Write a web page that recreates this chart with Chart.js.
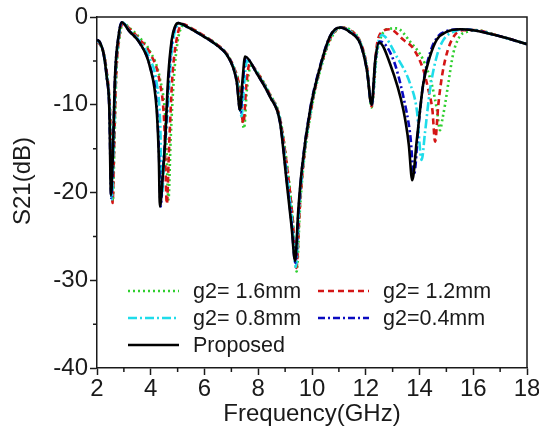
<!DOCTYPE html>
<html>
<head>
<meta charset="utf-8">
<script src="https://cdn.jsdelivr.net/npm/chart.js@4/dist/chart.umd.min.js"></script>
<style>
  body { margin: 0; background: #fff; }
  canvas { display: block; }
</style>
</head>
<body>
<canvas id="s21Chart" width="539" height="435"></canvas>
<script>
// S21 vs frequency (GHz, dB)
var freqProposed = [2.0, 2.11, 2.24, 2.36, 2.46, 2.52, 2.6, 2.67, 2.8, 2.92,
  3.2, 3.6, 3.97, 4.22, 4.3, 4.34, 4.45, 4.53, 4.65, 4.78,
  4.9, 5.02, 5.46, 5.96, 6.45, 6.83, 7.07, 7.2, 7.32, 7.42,
  7.51, 7.94, 8.44, 8.81, 9.06, 9.24, 9.37, 9.49, 9.62, 9.93,
  10.3, 10.67, 11.04, 11.4, 11.79, 12.04, 12.22, 12.35, 12.5, 12.9,
  13.4, 13.6, 13.73, 13.9, 14.14, 14.39, 14.64, 15.01, 15.5, 16.0,
  17.0, 18.0];
var s21Proposed = [-2.6, -2.9, -4.1, -6.8, -10.6, -20.3, -14.4, -6.8, -2.2, -0.6,
  -1.6, -3.0, -5.7, -10.6, -16.0, -21.6, -18.0, -14.4, -6.8, -2.6,
  -1.1, -0.7, -1.3, -2.2, -3.2, -4.3, -5.8, -7.4, -10.6, -7.0,
  -4.5, -6.4, -9.1, -12.0, -18.9, -23.9, -27.8, -22.0, -17.4, -10.6,
  -5.7, -2.2, -1.2, -1.7, -3.0, -6.0, -10.0, -5.0, -2.9, -5.3,
  -10.6, -14.5, -18.6, -14.0, -7.6, -4.5, -2.6, -1.7, -1.4, -1.5,
  -2.2, -3.1];

var freqG04 = [2.0, 2.11, 2.24, 2.36, 2.46, 2.53, 2.6, 2.67, 2.8, 2.92,
  3.2, 3.6, 3.97, 4.22, 4.3, 4.37, 4.45, 4.55, 4.67, 4.8,
  4.92, 5.03, 5.46, 5.96, 6.45, 6.83, 7.07, 7.2, 7.34, 7.44,
  7.53, 7.94, 8.44, 8.81, 9.06, 9.24, 9.38, 9.5, 9.63, 9.93,
  10.3, 10.67, 11.04, 11.4, 11.79, 12.04, 12.22, 12.35, 12.53, 13.03,
  13.4, 13.65, 13.8, 13.96, 14.14, 14.39, 14.64, 15.01, 15.5, 16.0,
  17.0, 18.0];
var s21G04 = [-2.6, -2.9, -4.1, -6.8, -10.6, -20.6, -14.6, -6.9, -2.2, -0.6,
  -1.6, -3.0, -5.6, -10.0, -15.0, -21.6, -17.5, -13.5, -6.8, -2.5,
  -1.1, -0.7, -1.3, -2.2, -3.2, -4.3, -5.8, -7.4, -10.9, -7.0,
  -4.6, -6.4, -9.1, -12.0, -18.5, -23.5, -28.0, -22.0, -17.2, -10.5,
  -5.6, -2.2, -1.2, -1.7, -3.0, -6.0, -10.0, -5.2, -2.8, -4.9,
  -9.1, -13.3, -17.9, -12.5, -7.6, -4.1, -2.4, -1.6, -1.4, -1.5,
  -2.2, -3.1];

var freqG08 = [2.0, 2.11, 2.24, 2.36, 2.47, 2.55, 2.62, 2.69, 2.82, 2.94,
  3.2, 3.6, 3.97, 4.22, 4.35, 4.42, 4.5, 4.6, 4.72, 4.85,
  4.95, 5.05, 5.46, 5.96, 6.45, 6.83, 7.07, 7.22, 7.38, 7.48,
  7.58, 7.94, 8.44, 8.81, 9.08, 9.26, 9.4, 9.52, 9.65, 9.96,
  10.33, 10.7, 11.06, 11.4, 11.79, 12.04, 12.22, 12.4, 12.6, 13.15,
  13.65, 13.9, 14.08, 14.2, 14.39, 14.64, 14.89, 15.26, 15.6, 16.0,
  17.0, 18.0];
var s21G08 = [-2.7, -3.0, -4.1, -6.6, -10.5, -20.8, -14.5, -6.8, -2.1, -0.6,
  -1.5, -2.8, -4.8, -7.5, -12.0, -20.3, -16.0, -12.0, -6.0, -2.3,
  -1.2, -0.8, -1.3, -2.2, -3.2, -4.3, -5.7, -7.4, -11.3, -7.5,
  -5.0, -6.3, -9.0, -11.8, -18.3, -23.3, -28.5, -22.0, -17.2, -10.4,
  -5.5, -2.2, -1.2, -1.6, -2.9, -5.8, -10.0, -4.0, -2.05, -4.5,
  -7.6, -10.6, -16.3, -13.3, -8.3, -4.5, -2.6, -1.7, -1.4, -1.5,
  -2.2, -3.1];

var freqG12 = [2.0, 2.11, 2.24, 2.36, 2.48, 2.58, 2.64, 2.71, 2.84, 2.96,
  3.2, 3.6, 3.97, 4.34, 4.5, 4.6, 4.68, 4.8, 4.95, 5.1,
  5.2, 5.46, 5.96, 6.45, 6.83, 7.1, 7.27, 7.45, 7.55, 7.68,
  7.94, 8.44, 8.81, 9.1, 9.28, 9.42, 9.54, 9.67, 9.98, 10.35,
  10.72, 11.1, 11.4, 11.79, 12.04, 12.22, 12.4, 12.6, 12.9, 13.4,
  13.77, 14.14, 14.33, 14.48, 14.58, 14.7, 14.85, 15.05, 15.3, 15.6,
  16.0, 17.0, 18.0];
var s21G12 = [-2.8, -3.1, -4.0, -6.2, -10.5, -21.2, -14.5, -6.8, -2.1, -0.7,
  -1.3, -2.6, -4.1, -7.5, -12.0, -21.3, -15.0, -7.0, -2.8, -1.0,
  -0.8, -1.2, -2.1, -3.1, -4.2, -5.8, -7.5, -12.1, -8.0, -5.3,
  -6.2, -8.9, -11.6, -17.8, -23.0, -28.6, -22.0, -17.0, -10.3, -5.4,
  -2.2, -1.2, -1.5, -2.8, -5.6, -10.2, -3.5, -1.7, -1.4, -2.6,
  -3.6, -6.0, -8.3, -10.6, -14.2, -10.0, -6.5, -3.8, -2.1, -1.5,
  -1.5, -2.2, -3.1];

var freqG16 = [2.0, 2.11, 2.24, 2.36, 2.48, 2.59, 2.65, 2.72, 2.85, 2.97,
  3.2, 3.6, 3.97, 4.34, 4.55, 4.66, 4.74, 4.86, 5.0, 5.15,
  5.25, 5.46, 5.96, 6.45, 6.83, 7.1, 7.28, 7.47, 7.58, 7.72,
  7.94, 8.44, 8.81, 9.1, 9.28, 9.43, 9.55, 9.68, 10.0, 10.38,
  10.75, 11.12, 11.4, 11.79, 12.04, 12.22, 12.4, 12.53, 12.78, 13.15,
  13.65, 14.14, 14.45, 14.65, 14.76, 14.86, 14.95, 15.07, 15.26, 15.5,
  15.76, 16.1, 17.0, 18.0];
var s21G16 = [-2.8, -3.1, -4.0, -6.2, -10.4, -21.0, -14.3, -6.6, -2.1, -0.7,
  -1.2, -2.4, -3.9, -7.0, -12.0, -20.8, -14.0, -7.0, -2.8, -1.1,
  -0.9, -1.2, -2.1, -3.1, -4.2, -5.8, -7.6, -12.7, -8.2, -5.6,
  -6.2, -8.8, -11.5, -17.5, -22.8, -29.0, -22.0, -17.0, -10.2, -5.3,
  -2.2, -1.2, -1.4, -2.8, -5.7, -10.3, -4.5, -2.6, -1.4, -1.3,
  -2.8, -4.9, -7.6, -10.6, -12.9, -11.5, -10.0, -7.6, -4.1, -2.2,
  -1.7, -1.5, -2.2, -3.1];

var xTicks = [2, 4, 6, 8, 10, 12, 14, 16, 18];
var yTicks = [0, -10, -20, -30, -40];

var FONT = '"Liberation Sans", Arial, sans-serif';
var INK = '#1a1a1a';

function pts(fs, vs) {
  return fs.map(function (f, i) { return { x: f, y: vs[i] }; });
}

// legend: two columns, drawn inside the plot (lower left)
var legendPlugin = {
  id: 'insideLegend',
  afterDraw: function (chart) {
    var ctx = chart.ctx;
    var slots = [
      [0, 128, 291], [1, 318, 291],
      [2, 128, 318], [3, 318, 318],
      [4, 128, 345]
    ];
    ctx.save();
    ctx.font = '21.5px ' + FONT;
    ctx.textBaseline = 'middle';
    slots.forEach(function (s) {
      var ds = chart.data.datasets[s[0]];
      ctx.beginPath();
      ctx.setLineDash(ds.borderDash || []);
      ctx.strokeStyle = ds.borderColor;
      ctx.lineWidth = ds.borderWidth;
      ctx.moveTo(s[1], s[2]);
      ctx.lineTo(s[1] + 51, s[2]);
      ctx.stroke();
      ctx.setLineDash([]);
      ctx.fillStyle = INK;
      ctx.fillText(ds.label, s[1] + 65, s[2] + 1);
    });
    ctx.restore();
  }
};

// box frame (top/right), minor ticks and the y title
var framePlugin = {
  id: 'frame',
  afterDraw: function (chart) {
    var ctx = chart.ctx, a = chart.chartArea;
    var xs = chart.scales.x, ys = chart.scales.y;
    ctx.save();
    ctx.strokeStyle = INK;
    ctx.lineWidth = 1.5;
    ctx.beginPath();
    ctx.moveTo(a.left, a.top);
    ctx.lineTo(a.right, a.top);
    ctx.lineTo(a.right, a.bottom);
    ctx.stroke();
    ctx.beginPath();
    for (var v = 3; v < 18; v += 2) {
      var px = xs.getPixelForValue(v);
      ctx.moveTo(px, a.bottom);
      ctx.lineTo(px, a.bottom + 4);
    }
    for (var w = -5; w > -40; w -= 10) {
      var py = ys.getPixelForValue(w);
      ctx.moveTo(a.left, py);
      ctx.lineTo(a.left - 4, py);
    }
    ctx.stroke();

    ctx.translate(23, 181);
    ctx.rotate(-Math.PI / 2);
    ctx.font = '24px ' + FONT;
    ctx.fillStyle = INK;
    ctx.textAlign = 'center';
    ctx.textBaseline = 'middle';
    ctx.fillText('S21(dB)', 0, 0);
    ctx.restore();
  }
};

new Chart(document.getElementById('s21Chart'), {
  type: 'line',
  data: {
    datasets: [
      { label: 'g2= 1.6mm', data: pts(freqG16, s21G16), borderColor: '#2fcf2f', borderWidth: 2.6, borderDash: [2, 3], order: 5 },
      { label: 'g2= 1.2mm', data: pts(freqG12, s21G12), borderColor: '#d41515', borderWidth: 2.6, borderDash: [6, 4], order: 4 },
      { label: 'g2= 0.8mm', data: pts(freqG08, s21G08), borderColor: '#1fdcea', borderWidth: 2.6, borderDash: [9, 3, 2, 3], order: 3 },
      { label: 'g2=0.4mm', data: pts(freqG04, s21G04), borderColor: '#0a0ac0', borderWidth: 2.6, borderDash: [7, 3, 2, 3], order: 2 },
      { label: 'Proposed', data: pts(freqProposed, s21Proposed), borderColor: '#000000', borderWidth: 2.6, order: 1 }
    ]
  },
  options: {
    responsive: false,
    animation: false,
    layout: { padding: { top: 17, right: 12, left: 0, bottom: 0 } },
    elements: {
      point: { radius: 0 },
      line: { cubicInterpolationMode: 'monotone', fill: false }
    },
    plugins: {
      legend: { display: false },
      tooltip: { enabled: false }
    },
    scales: {
      x: {
        type: 'linear',
        min: 2,
        max: 18,
        afterBuildTicks: function (s) { s.ticks = xTicks.map(function (v) { return { value: v }; }); },
        ticks: { font: { family: FONT, size: 24 }, color: INK, padding: 0, maxRotation: 0, autoSkip: false },
        grid: { drawOnChartArea: false, tickLength: 7, tickColor: INK, tickWidth: 1.5 },
        border: { color: INK, width: 1.5 },
        title: { display: true, text: 'Frequency(GHz)', font: { family: FONT, size: 24 }, color: INK, padding: { top: 0, bottom: 6 } },
        afterFit: function (s) { s.height = 67; s.paddingLeft = 0; s.paddingRight = 0; }
      },
      y: {
        min: -40,
        max: 0,
        afterBuildTicks: function (s) { s.ticks = yTicks.map(function (v) { return { value: v }; }); },
        ticks: { font: { family: FONT, size: 24 }, color: INK, padding: 2 },
        grid: { drawOnChartArea: false, tickLength: 7, tickColor: INK, tickWidth: 1.5 },
        border: { color: INK, width: 1.5 },
        afterFit: function (s) { s.width = 97; s.paddingTop = 0; s.paddingBottom = 0; }
      }
    }
  },
  plugins: [framePlugin, legendPlugin]
});
</script>
</body>
</html>
